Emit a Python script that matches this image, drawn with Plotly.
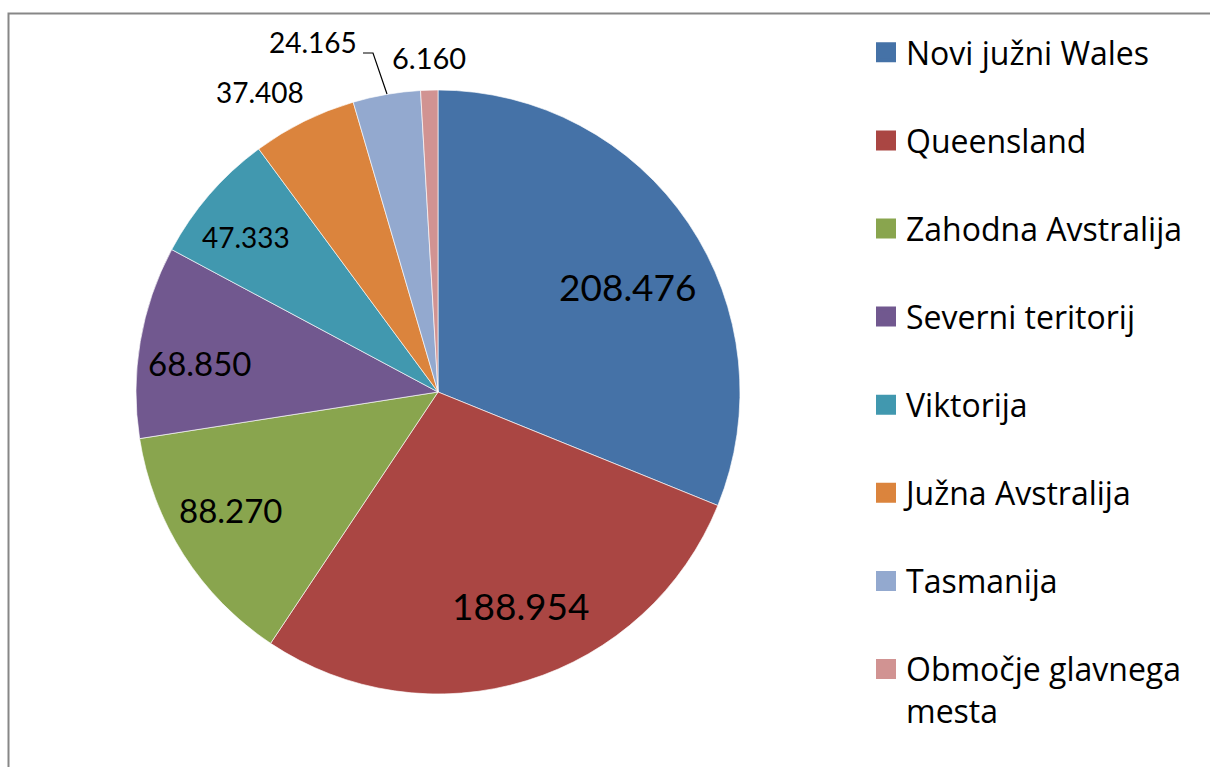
import plotly.graph_objects as go

# ---- data ----
regions = ["Novi južni Wales", "Queensland", "Zahodna Avstralija", "Severni teritorij",
           "Viktorija", "Južna Avstralija", "Tasmanija", "Območje glavnega mesta"]
values = [208476, 188954, 88270, 68850, 47333, 37408, 24165, 6160]
legend_names = ["Novi južni Wales", "Queensland", "Zahodna Avstralija", "Severni teritorij",
                "Viktorija", "Južna Avstralija", "Tasmanija", "Območje glavnega<br>mesta"]

# ---- style ----
colors = ["#4572A7", "#AA4643", "#89A54E", "#71588F", "#4198AF", "#DB843D", "#93A9CF", "#D19392"]
W, H = 1210, 767
NUM_FONT = "Lato, 'Open Sans', sans-serif"
LEG_FONT = "'Open Sans', Lato, sans-serif"
label_px = [(628, 286), (521, 605), (231, 510), (200, 363), (246, 237), (260, 92), (313, 42), (429, 57)]
label_size = [37, 37, 33, 33, 28, 28, 28, 29]


def fmt(v):
    return f"{v:,}".replace(",", ".")


def px(x, y):
    return x / W, 1 - y / H


fig = go.Figure()
fig.add_trace(go.Pie(
    labels=regions, values=values, sort=False, direction="clockwise", rotation=0,
    marker=dict(colors=colors, line=dict(color="rgba(255,255,255,0.8)", width=0.8)),
    textinfo="none", showlegend=False,
    domain=dict(x=[136 / W, 740 / W], y=[1 - 694 / H, 1 - 90 / H]),
))

for name, col in zip(legend_names, colors):
    fig.add_trace(go.Scatter(
        x=[None], y=[None], mode="markers", name=name, legendgroup=name,
        marker=dict(symbol="square", size=16, color=col, line=dict(color=col, width=4)),
        hoverinfo="skip",
    ))

annotations = []
for v, (lx, ly), fs in zip(values, label_px, label_size):
    ax, ay = px(lx, ly)
    annotations.append(dict(x=ax, y=ay, xref="paper", yref="paper", text=fmt(v), showarrow=False,
                            xanchor="center", yanchor="middle",
                            font=dict(family=NUM_FONT, size=fs, color="black")))

# leader line for the Tasmanija label
p1, p2, p3 = px(363, 53), px(373, 53), px(387, 94)
shapes = [
    dict(type="path", xref="paper", yref="paper",
         path=f"M {p1[0]},{p1[1]} L {p2[0]},{p2[1]} L {p3[0]},{p3[1]}",
         line=dict(color="black", width=1.2)),
    dict(type="rect", xref="paper", yref="paper", x0=8.5 / W, y0=-0.05, x1=1.05, y1=1 - 13.5 / H,
         line=dict(color="#878787", width=2), fillcolor="rgba(0,0,0,0)"),
]

fig.update_layout(
    width=W, height=H, autosize=False,
    margin=dict(l=0, r=0, t=0, b=0),
    paper_bgcolor="white", plot_bgcolor="white",
    xaxis=dict(visible=False), yaxis=dict(visible=False),
    showlegend=True,
    legend=dict(x=866 / W, xanchor="left", y=1 - 25 / H, yanchor="top",
                font=dict(family=LEG_FONT, size=32, color="black"),
                tracegroupgap=43.5, valign="top", bgcolor="rgba(0,0,0,0)",
                itemclick=False, itemdoubleclick=False),
    annotations=annotations, shapes=shapes,
)

fig.write_html("out.html", config={"displayModeBar": False},
               post_script="document.body.style.margin='0px';")
